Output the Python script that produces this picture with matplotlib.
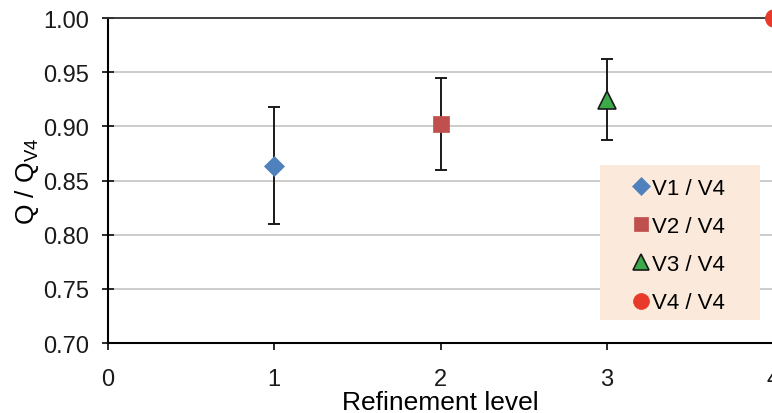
import matplotlib
matplotlib.use("Agg")
import matplotlib.pyplot as plt
from matplotlib.patches import Rectangle

plt.rcParams['font.family'] = ['Liberation Sans', 'DejaVu Sans']

labels = ["V1 / V4", "V2 / V4", "V3 / V4", "V4 / V4"]
levels = [1, 2, 3, 4]
values = [0.863, 0.902, 0.924, 1.000]
err_lo = [0.810, 0.860, 0.887, None]
err_hi = [0.918, 0.945, 0.962, None]

markers = ["D", "s", "^", "o"]
colors = ["#4F81BD", "#C0504D", "#3DAA4A", "#E8392A"]
edges = ["#4F81BD", "#C0504D", "#1a1a1a", "#E8392A"]
sizes = [10, 11, 13, 13]

fig = plt.figure(figsize=(7.72, 4.14), dpi=100)
ax = fig.add_axes([107.5/772, 1-344/414, 666/772, 325/414])

for i in range(4):
    if err_lo[i] is not None:
        ax.errorbar(levels[i], values[i],
                    yerr=[[values[i]-err_lo[i]], [err_hi[i]-values[i]]],
                    fmt='none', ecolor='#1a1a1a', elinewidth=1.4, capsize=4.5,
                    capthick=1.4, zorder=3)
    ax.plot(levels[i], values[i], linestyle='none', marker=markers[i],
            markersize=sizes[i], markerfacecolor=colors[i],
            markeredgecolor=edges[i], markeredgewidth=1.2 if i == 2 else 0.5,
            label=labels[i], clip_on=False, zorder=4)

ax.set_xlim(0, 4)
ax.set_ylim(0.70, 1.00)
ax.set_xticks([0, 1, 2, 3, 4])
ax.set_yticks([0.70, 0.75, 0.80, 0.85, 0.90, 0.95, 1.00])
ax.set_yticklabels([f"{v:.2f}" for v in [0.70, 0.75, 0.80, 0.85, 0.90, 0.95, 1.00]])
ax.yaxis.grid(True, color='#c8c8c8', linewidth=1.3)
ax.set_axisbelow(True)
ax.spines['right'].set_visible(False)
ax.spines['top'].set_color('#333333')
ax.spines['top'].set_linewidth(1.3)
ax.spines['left'].set_linewidth(1.5)
ax.spines['bottom'].set_linewidth(1.5)
ax.tick_params(axis='both', labelsize=17, direction='inout', length=8, width=1.3,
               colors='#1a1a1a')
ax.tick_params(axis='y', pad=9)
ax.tick_params(axis='x', direction='out', length=5, pad=13)
ax.set_xlabel("Refinement level", fontsize=19, labelpad=0)
ax.set_ylabel(r"Q / Q$_{\mathregular{V4}}$", fontsize=19, labelpad=2)

bg = Rectangle((600/772, 1-321/414), 160/772, 155/414, transform=fig.transFigure,
               facecolor='#FBEADB', edgecolor='none', zorder=5, clip_on=False)
ax.add_patch(bg)

leg = ax.legend(loc='upper left', bbox_to_anchor=(630/772, 1-179/414),
                bbox_transform=fig.transFigure, frameon=False, fontsize=16,
                handletextpad=0.0, labelspacing=0.77, borderpad=0,
                handlelength=1.0, borderaxespad=0, markerscale=0.88)
leg.set_zorder(6)

fig.savefig("out.png", dpi=100)
